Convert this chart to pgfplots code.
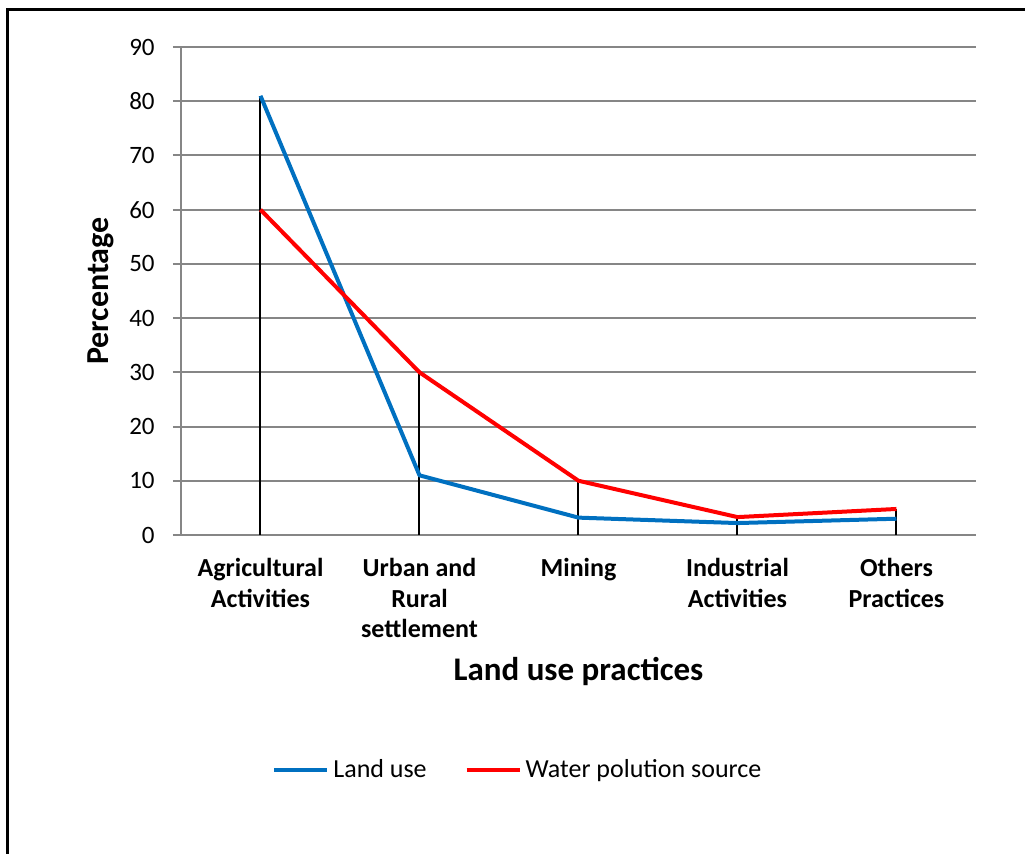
\documentclass[border=0pt]{standalone}
\usepackage{pgfplots}
\pgfplotsset{compat=1.18}
\usepackage{fontspec}
\setmainfont{Carlito}
\definecolor{lublue}{RGB}{0,112,192}
\definecolor{gridgray}{RGB}{134,134,134}
\begin{document}
\begin{tikzpicture}
\begin{axis}[
  at={(0,0)}, anchor=south west,
  scale only axis, width=397.5pt, height=244pt,
  xmin=-0.5, xmax=4.5, ymin=0, ymax=90,
  axis lines=left, axis line style={-, gridgray, line width=1pt},
  xtick={0,1,2,3,4},
  xticklabels={Agricultural\\Activities, Urban and\\Rural\\settlement, Mining, Industrial\\Activities, Others\\Practices},
  ytick={0,10,...,90},
  ymajorgrids, grid style={gridgray, line width=1pt},
  tick align=outside, major tick length=4pt,
  xtick style={draw=none}, ytick style={gridgray, line width=1pt},
  /pgf/number format/assume math mode=true,
  yticklabel style={font=\fontsize{12.5}{15}\selectfont, anchor=east, inner sep=0pt, xshift=-9pt},
  xticklabel style={font=\fontsize{13}{15.25}\selectfont\bfseries, align=center, anchor=north, inner sep=0pt, yshift=-7.5pt},
  xlabel={Land use practices}, ylabel={Percentage},
  xlabel style={font=\fontsize{16.5}{20}\selectfont\bfseries, at={(axis description cs:0.5,-0.299)}, anchor=base},
  ylabel style={font=\fontsize{16}{20}\selectfont\bfseries, at={(axis description cs:-0.0906,0.5)}, anchor=base},
  legend columns=2,
  legend style={at={(axis description cs:0.425,-0.4816)}, anchor=center, draw=none, fill=none,
    font=\fontsize{13}{15}\selectfont,
    /tikz/every even column/.append style={column sep=17pt}},
  legend image code/.code={\draw[#1, line width=2pt] (0pt,0pt) -- (26.5pt,0pt);},
]
\addplot[ycomb, black, line width=1pt, forget plot] coordinates {(0,81) (1,30) (2,10) (3,3.3) (4,4.8)};
\addplot[lublue, line width=2pt, line join=round] coordinates {(0,81) (1,11) (2,3.2) (3,2.2) (4,3)};
\addlegendentry{Land use}
\addplot[red, line width=2pt, line join=round] coordinates {(0,60) (1,30) (2,10) (3,3.3) (4,4.8)};
\addlegendentry{Water polution source}
\end{axis}
\pgfresetboundingbox
\useasboundingbox (-90.5pt,-159.5pt) rectangle (422pt,267.5pt);
\begin{scope}
\clip (-90.5pt,-159.5pt) rectangle (422pt,267.5pt);
\draw[line width=1.5pt, line join=miter] (-86.5pt,-300pt) -- (-86.5pt,262.5pt) -- (600pt,262.5pt);
\end{scope}
\end{tikzpicture}
\end{document}
